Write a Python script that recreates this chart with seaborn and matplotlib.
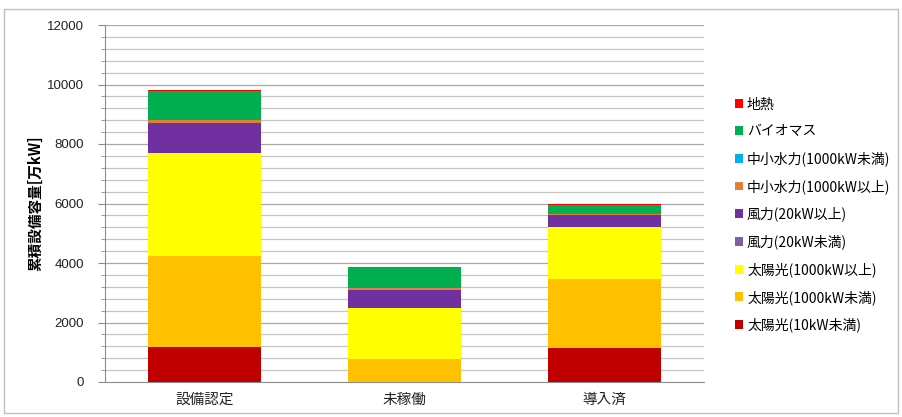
import numpy as np
import pandas as pd
import matplotlib
matplotlib.use("Agg")
import matplotlib.pyplot as plt
import seaborn as sns
from matplotlib.patches import Patch, Rectangle
from matplotlib.ticker import MultipleLocator

# Categories and stacked series (万kW), bottom layer first
categories = ["設備認定", "未稼働", "導入済"]
series_names = [
    "太陽光(10kW未満)",
    "太陽光(1000kW未満)",
    "太陽光(1000kW以上)",
    "風力(20kW未満)",
    "風力(20kW以上)",
    "中小水力(1000kW以上)",
    "中小水力(1000kW未満)",
    "バイオマス",
    "地熱",
]
solar_small = [1160, 0, 1130]
solar_mid = [3060, 780, 2320]
solar_large = [3480, 1720, 1750]
wind_small = [5, 2, 3]
wind_large = [1000, 600, 400]
hydro_large = [100, 50, 30]
hydro_small = [15, 5, 5]
biomass = [970, 700, 300]
geothermal = [40, 25, 30]

series_values = [solar_small, solar_mid, solar_large, wind_small, wind_large,
                 hydro_large, hydro_small, biomass, geothermal]
series_colors = ["#C00000", "#FFC000", "#FFFF00", "#7F5FA0", "#7030A0",
                 "#E0803C", "#00B0F0", "#00B050", "#FF0000"]

df = pd.DataFrame(dict(zip(series_names, series_values)), index=categories)
cum = df.cumsum(axis=1)

plt.rcParams["font.family"] = ["Noto Sans CJK JP", "DejaVu Sans"]
fig = plt.figure(figsize=(9.02, 4.17), dpi=100)
ax = fig.add_axes([105 / 902, 1 - 382 / 417, (704 - 105) / 902, (382 - 25) / 417])

# Draw cumulative totals from the top layer down so each layer shows its own band
for name, color in reversed(list(zip(series_names, series_colors))):
    plot_df = pd.DataFrame({"cat": categories, "val": cum[name].values})
    sns.barplot(data=plot_df, x="cat", y="val", color=color, saturation=1,
                width=0.565, linewidth=0, ax=ax, zorder=3)

ax.set_ylim(0, 12000)
ax.set_xlim(-0.5, 2.5)
ax.yaxis.set_major_locator(MultipleLocator(2000))
ax.yaxis.set_minor_locator(MultipleLocator(400))
ax.grid(False)
for y in np.arange(400, 12001, 400):
    ax.axhline(y, color="#C4C4C4" if y % 2000 else "#A8A8A8", lw=0.9, zorder=1)

for side in ["top", "right"]:
    ax.spines[side].set_visible(False)
ax.spines["left"].set_color("#8C8C8C")
ax.spines["bottom"].set_color("#8C8C8C")
ax.tick_params(axis="y", which="major", length=5, color="#8C8C8C", labelsize=9.5,
               labelcolor="#222222", pad=10)
ax.tick_params(axis="y", which="minor", length=3, color="#8C8C8C")
ax.tick_params(axis="x", length=0, labelsize=10.5, labelcolor="#222222", pad=8)
for lbl in ax.get_yticklabels():
    lbl.set_family(["Liberation Sans", "DejaVu Sans"])
ax.set_xlabel("")
ax.set_ylabel("累積設備容量[万kW]", fontsize=10.5, fontweight="bold", labelpad=3)

handles = [Patch(facecolor=c, edgecolor="none") for c in series_colors]
leg = fig.legend(handles[::-1], series_names[::-1], loc="upper left",
                 bbox_to_anchor=(722 / 902, 1 - 85 / 417), frameon=False,
                 fontsize=10, handlelength=0.6, handleheight=0.6,
                 handletextpad=0.3, labelspacing=0.93)

# Outer chart frame
fig.patches.append(Rectangle((4 / 902, 4 / 417), 894 / 902, 404 / 417,
                             transform=fig.transFigure, fill=False,
                             edgecolor="#BFBFBF", lw=1))

fig.savefig("out.png", dpi=100)
